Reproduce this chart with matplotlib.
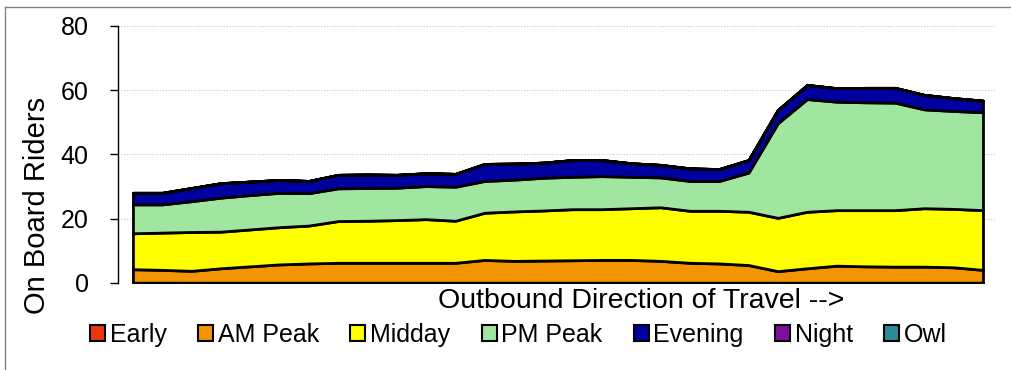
import matplotlib
matplotlib.use("Agg")
import matplotlib.pyplot as plt
from matplotlib.patches import Patch
from matplotlib.lines import Line2D

plt.rcParams['font.family'] = ['Liberation Sans', 'DejaVu Sans']

# stops along the route (outbound), one value per stop
stops = list(range(30))

early = [0.0] * 30
am_peak = [4.2, 4.0, 3.7, 4.5, 5.1, 5.7, 6.0, 6.2, 6.2, 6.2, 6.2, 6.2, 7.1, 6.8, 6.9,
           7.0, 7.1, 7.1, 6.8, 6.2, 6.0, 5.5, 3.6, 4.5, 5.3, 5.1, 5.0, 5.0, 4.8, 4.0]
midday = [11.2, 11.6, 12.1, 11.4, 11.5, 11.6, 11.8, 13.0, 13.1, 13.3, 13.6, 13.1, 14.7, 15.4, 15.6,
          15.9, 15.8, 16.1, 16.7, 16.2, 16.4, 16.6, 16.6, 17.6, 17.3, 17.5, 17.6, 18.2, 18.2, 18.6]
pm_peak = [9.0, 8.8, 9.6, 10.6, 10.7, 10.7, 10.1, 10.2, 10.2, 10.1, 10.3, 10.6, 9.9, 9.9, 10.2,
           10.1, 10.3, 9.8, 9.3, 9.3, 9.3, 12.2, 29.5, 35.1, 33.8, 33.6, 33.5, 30.8, 30.5, 30.5]
evening = [3.6, 3.6, 4.1, 4.5, 4.2, 4.0, 3.8, 4.2, 4.2, 4.0, 4.0, 4.0, 5.3, 5.0, 4.7,
           5.2, 5.0, 4.2, 3.9, 3.9, 3.7, 3.9, 4.1, 4.4, 4.2, 4.5, 4.6, 4.5, 4.0, 3.6]
night = [0.0] * 30
owl = [0.0] * 30

labels = ['Early', 'AM Peak', 'Midday', 'PM Peak', 'Evening', 'Night', 'Owl']
colors = ['#E8380D', '#F39400', '#FFFF00', '#A0E6A0', '#0000A0', '#7F0FA0', '#2A8C99']
y_ticks = [0, 20, 40, 60, 80]

fig = plt.figure(figsize=(10.12, 3.7), dpi=100)
ax = fig.add_axes([118 / 1012, 1 - 282.7 / 370, (995 - 118) / 1012, (282.7 - 25.9) / 370])

ax.stackplot(stops, early, am_peak, midday, pm_peak, evening, night, owl,
             colors=colors, edgecolor='black', linewidth=2, zorder=3)

ax.set_xlim(-0.51, 29.41)
ax.set_ylim(0, 80)
ax.set_yticks(y_ticks)
ax.set_xticks([])
ax.yaxis.grid(True, color='#c8c8c8', linestyle=(0, (1, 1.5)), linewidth=0.8, zorder=0)
ax.tick_params(axis='y', direction='out', length=6, width=1, pad=15, labelsize=18)
for s in ['top', 'right', 'bottom']:
    ax.spines[s].set_visible(False)
ax.spines['left'].set_linewidth(1)

fig.text(37 / 1012, 1 - 205 / 370, 'On Board Riders', rotation=90, fontsize=21,
         ha='center', va='center')
fig.text(641 / 1012, 1 - 301 / 370, 'Outbound Direction of Travel -->', fontsize=20.5,
         ha='center', va='center')

handles = [Patch(facecolor=c, edgecolor='black', linewidth=1.5) for c in colors]
fig.legend(handles, labels, loc='center', bbox_to_anchor=(518.5 / 1012, 1 - 335 / 370),
           ncol=7, frameon=False, fontsize=18, handlelength=0.6, handleheight=0.6,
           handletextpad=0.18, columnspacing=1.26, borderaxespad=0, borderpad=0)

# chart area border
fig.add_artist(Line2D([5 / 1012, 5 / 1012], [0, 1 - 7 / 370], color='#808080', linewidth=1))
fig.add_artist(Line2D([5 / 1012, 1], [1 - 7 / 370, 1 - 7 / 370], color='#808080', linewidth=1))

fig.savefig('out.png', dpi=100)
